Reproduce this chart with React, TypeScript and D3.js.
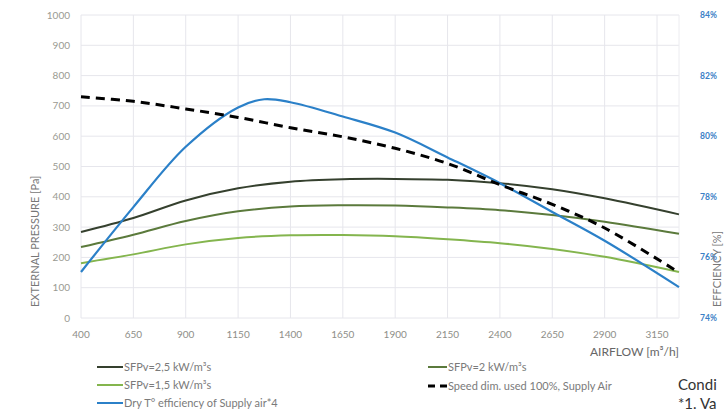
import React from "react";
import * as d3 from "d3";

const airflow = [400, 650, 900, 1150, 1400, 1650, 1900, 2150, 2400, 2650, 2900, 3255];
const sfp25 = [284, 330, 388, 428, 450, 458, 459, 456, 445, 425, 395, 342];
const sfp2 = [234, 275, 320, 352, 368, 372, 371, 365, 356, 340, 318, 278];
const sfp15 = [181, 210, 243, 264, 273, 274, 270, 260, 247, 228, 202, 152];
const speedPct = [81.3, 81.15, 80.9, 80.62, 80.28, 79.98, 79.6, 79.1, 78.4, 77.75, 76.97, 75.5];
const blueAirflow = [400, 650, 900, 1150, 1275, 1400, 1650, 1900, 2150, 2400, 2650, 2900, 3255];
const bluePct = [75.52, 77.66, 79.65, 80.95, 81.22, 81.12, 80.65, 80.12, 79.3, 78.45, 77.5, 76.55, 75.02];

const xTicks = [400, 650, 900, 1150, 1400, 1650, 1900, 2150, 2400, 2650, 2900, 3150];
const yTicks = [0, 100, 200, 300, 400, 500, 600, 700, 800, 900, 1000];
const pctTicks = [74, 76, 78, 80, 82, 84];

const FONT = "Lato, 'Open Sans', sans-serif";

export default function App() {
  const x = d3.scaleLinear().domain([400, 3255]).range([81, 679]);
  const y = d3.scaleLinear().domain([0, 1000]).range([318, 15]);
  const yr = d3.scaleLinear().domain([74, 84]).range([318, 15]);

  const lineL = d3
    .line<[number, number]>()
    .x((d) => x(d[0]))
    .y((d) => y(d[1]))
    .curve(d3.curveCatmullRom.alpha(0.5));
  const lineR = d3
    .line<[number, number]>()
    .x((d) => x(d[0]))
    .y((d) => yr(d[1]))
    .curve(d3.curveCatmullRom.alpha(0.5));

  const zip = (xs: number[], ys: number[]) => xs.map((v, i) => [v, ys[i]] as [number, number]);

  return (
    <svg
      width={725}
      height={420}
      style={{ position: "absolute", left: 0, top: 0, background: "#fff" }}
      fontFamily={FONT}
    >
      {/* grid */}
      {yTicks.map((t) => (
        <line key={"h" + t} x1={x(400)} x2={x(3255)} y1={y(t)} y2={y(t)} stroke="#e6e6ec" strokeWidth={1} />
      ))}
      {xTicks.map((t) => (
        <line key={"v" + t} x1={x(t)} x2={x(t)} y1={y(0)} y2={y(1000)} stroke="#e6e6ec" strokeWidth={1} />
      ))}
      <line x1={x(3255)} x2={x(3255)} y1={y(0)} y2={y(1000)} stroke="#ececf0" strokeWidth={1} />

      {/* left ticks */}
      {yTicks.map((t) => (
        <text key={"yl" + t} x={70} y={y(t)} dy="0.35em" textAnchor="end" fontSize={10} fill="#9a9a92">
          {t}
        </text>
      ))}
      {/* right ticks */}
      {pctTicks.map((t) => (
        <text key={"yr" + t} x={700} y={yr(t)} dy="0.35em" textAnchor="start" fontSize={8.5} fontWeight="bold" fill="#3a80c6">
          {t}%
        </text>
      ))}
      {/* x ticks */}
      {xTicks.map((t) => (
        <text key={"xt" + t} x={x(t)} y={334} dy="0.35em" textAnchor="middle" fontSize={10} fill="#8e8e88">
          {t}
        </text>
      ))}

      {/* axis titles */}
      <text transform="translate(39,307) rotate(-90)" fontSize={11} fill="#777" textAnchor="start">
        EXTERNAL PRESSURE [Pa]
      </text>
      <text transform="translate(721,307) rotate(-90)" fontSize={11} fill="#777" textAnchor="start">
        EFFCIENCY [%]
      </text>
      <text x={679} y={352} dy="0.35em" textAnchor="end" fontSize={12} fill="#666">
        AIRFLOW [m³/h]
      </text>

      {/* series */}
      <path d={lineL(zip(airflow, sfp25)) || ""} fill="none" stroke="#35402e" strokeWidth={2} />
      <path d={lineL(zip(airflow, sfp2)) || ""} fill="none" stroke="#5b7a3c" strokeWidth={2} />
      <path d={lineL(zip(airflow, sfp15)) || ""} fill="none" stroke="#84b54e" strokeWidth={2} />
      <path d={lineR(zip(blueAirflow, bluePct)) || ""} fill="none" stroke="#2b80c8" strokeWidth={2.2} />
      <path
        d={lineR(zip(airflow, speedPct)) || ""}
        fill="none"
        stroke="#000"
        strokeWidth={3}
        strokeDasharray="9,6"
      />

      {/* legend */}
      <line x1={97} x2={123} y1={367} y2={367} stroke="#35402e" strokeWidth={2} />
      <text x={124} y={367} dy="0.35em" fontSize={11} fill="#7a7a7a">SFPv=2,5 kW/m³s</text>
      <line x1={97} x2={123} y1={385} y2={385} stroke="#84b54e" strokeWidth={2} />
      <text x={124} y={385} dy="0.35em" fontSize={11} fill="#7a7a7a">SFPv=1,5 kW/m³s</text>
      <line x1={97} x2={123} y1={403} y2={403} stroke="#2b80c8" strokeWidth={2} />
      <text x={124} y={403} dy="0.35em" fontSize={11} fill="#7a7a7a">Dry T° efficiency of Supply air*4</text>

      <line x1={428} x2={447} y1={367} y2={367} stroke="#5b7a3c" strokeWidth={2} />
      <text x={448} y={367} dy="0.35em" fontSize={11} fill="#7a7a7a">SFPv=2 kW/m³s</text>
      <line x1={428} x2={447} y1={386} y2={386} stroke="#000" strokeWidth={3} strokeDasharray="7,5" />
      <text x={448} y={386} dy="0.35em" fontSize={11} fill="#7a7a7a">Speed dim. used 100%, Supply Air</text>

      <text x={678} y={385} dy="0.35em" fontSize={15} fill="#333">Condi</text>
      <text x={678} y={404} dy="0.35em" fontSize={15} fill="#333">*1. Va</text>
    </svg>
  );
}
